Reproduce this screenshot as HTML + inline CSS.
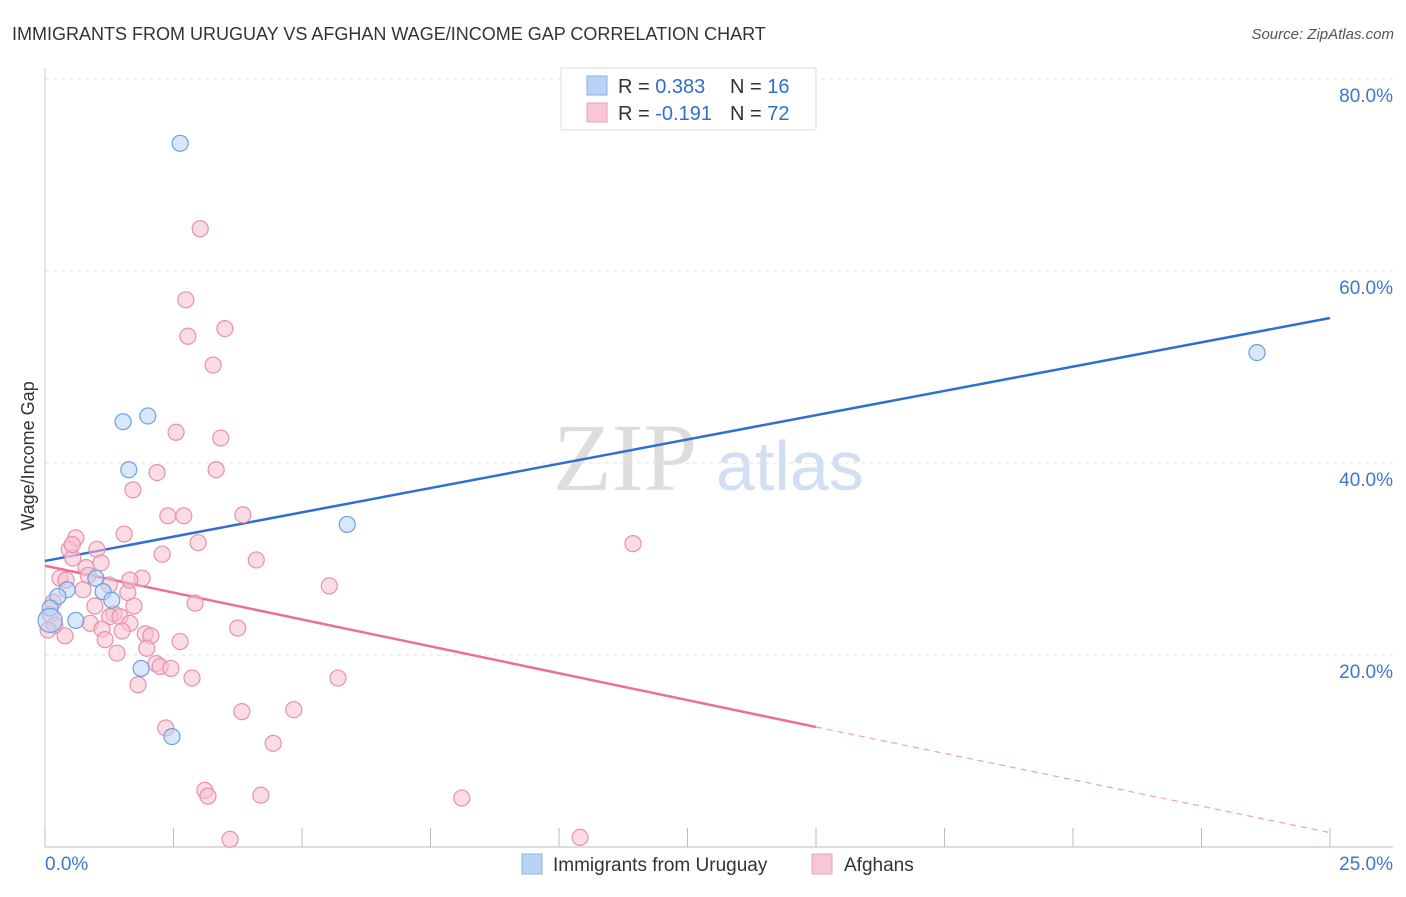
<!DOCTYPE html>
<html><head><meta charset="utf-8">
<style>
body{margin:0;background:#fff;font-family:"Liberation Sans",sans-serif;}
svg text{font-family:"Liberation Sans",sans-serif;}
</style></head>
<body>
<svg id="chart" width="1406" height="892" xmlns="http://www.w3.org/2000/svg">
<text x="12" y="40" font-size="18" fill="#333">IMMIGRANTS FROM URUGUAY VS AFGHAN WAGE/INCOME GAP CORRELATION CHART</text>
<text x="1394" y="39" font-size="15" fill="#555" font-style="italic" text-anchor="end">Source: ZipAtlas.com</text>
<text x="553" y="490" font-size="96" fill="#ddd" font-family="Liberation Serif" style="font-family:'Liberation Serif',serif">ZIP</text>
<text x="716" y="490" font-size="70" fill="#d0dff3">atlas</text>
<g id="grid"></g>
<g id="axes"></g>
<g id="lines"></g>
<g id="points"></g>
<text transform="translate(34,456) rotate(-90)" font-size="18" fill="#333" text-anchor="middle">Wage/Income Gap</text>
<g>
<rect x="561" y="68" width="255" height="62" fill="#fff" stroke="#ddd"/>
<rect x="587" y="76" width="20" height="19" fill="#b8d3f5" stroke="#88b0e6"/>
<rect x="587" y="103" width="20" height="19" fill="#f8c6d4" stroke="#eaa0b8"/>
<text x="618" y="93" font-size="20" fill="#333">R = <tspan fill="#2f6fd0">0.383</tspan></text>
<text x="730" y="93" font-size="20" fill="#333">N = <tspan fill="#2f6fd0">16</tspan></text>
<text x="618" y="120" font-size="20" fill="#333">R = <tspan fill="#2f6fd0">-0.191</tspan></text>
<text x="730" y="120" font-size="20" fill="#333">N = <tspan fill="#2f6fd0">72</tspan></text>
</g>
<g>
<rect x="522" y="854" width="20" height="20" fill="#b8d3f5" stroke="#88b0e6"/>
<text x="553" y="871" font-size="19" fill="#333">Immigrants from Uruguay</text>
<rect x="812" y="854" width="20" height="20" fill="#f8c6d4" stroke="#eaa0b8"/>
<text x="844" y="871" font-size="19" fill="#333">Afghans</text>
</g>
</svg>
<script>
const yTicks=[20,40,60,80];
const xTickVals=[0,2.5,5,7.5,10,12.5,15,17.5,20,22.5,25];
const blueX=[2.63,1.52,2.0,1.63,5.88,23.58,0.99,0.43,0.25,1.13,1.30,0.1,0.6,1.87,2.47,0.1];
const blueY=[73.3,44.3,44.9,39.3,33.6,51.5,28.0,26.8,26.1,26.6,25.7,24.9,23.6,18.6,11.5,23.6];
const pinkX=[3.02,2.74,3.50,2.78,3.27,2.55,3.42,2.18,3.33,1.71,2.39,2.70,3.85,1.54,0.60,2.98,0.47,1.01,2.28,11.44,4.11,0.54,1.09,0.80,0.29,0.41,1.89,1.25,5.53,0.74,1.61,0.16,0.97,1.73,2.92,1.34,1.26,1.46,0.88,1.65,1.11,3.75,1.50,1.95,2.06,0.39,2.63,1.98,1.40,2.16,2.24,2.45,2.86,5.70,1.81,3.83,4.84,2.35,4.44,3.11,3.17,4.20,8.11,3.60,10.41,0.1,0.19,0.06,0.84,0.53,1.17,1.65];
const pinkY=[64.4,57.0,54.0,53.2,50.2,43.2,42.6,39.0,39.3,37.2,34.5,34.5,34.6,32.6,32.2,31.7,31.0,31.0,30.5,31.6,29.9,30.1,29.6,29.1,28.0,27.8,28.0,27.3,27.2,26.8,26.5,25.5,25.1,25.1,25.4,24.3,24.0,24.0,23.3,23.3,22.7,22.8,22.5,22.2,22.0,22.0,21.4,20.7,20.2,19.1,18.8,18.6,17.6,17.6,16.9,14.1,14.3,12.4,10.8,5.9,5.3,5.4,5.1,0.8,1.0,24.2,23.1,22.6,28.3,31.5,21.6,27.8];
const blueTrend=[[0,29.8],[25,55.1]];
const pinkTrend=[[0,29.3],[15,12.5]];
const pinkTrendDash=[[15,12.5],[25,1.5]];
const NS="http://www.w3.org/2000/svg";
const sx=v=>45+v*(1285/25);
const sy=v=>847-v*9.6;
function mk(tag,attrs,parent){const e=document.createElementNS(NS,tag);for(const k in attrs)e.setAttribute(k,attrs[k]);document.getElementById(parent).appendChild(e);return e;}
yTicks.forEach(t=>{
 const l=mk('line',{x1:45,x2:1393,y1:sy(t),y2:sy(t),stroke:'#e2e2e2','stroke-dasharray':'4,4'},'grid');
 
 
 const tx=mk('text',{x:1393,y:sy(t)+23,'font-size':19,fill:'#3a78d0','text-anchor':'end'},'grid');
 tx.textContent=t.toFixed(1)+'%';
 
 
});
const ax=mk('line',{x1:45,x2:1393,y1:847,y2:847,stroke:'#bbb'},'axes');


const ay=mk('line',{x1:45,x2:45,y1:68,y2:847,stroke:'#ccc'},'axes');


xTickVals.forEach(t=>{
 const l=mk('line',{x1:sx(t),x2:sx(t),y1:828,y2:847,stroke:'#bbb'},'axes');
 
 
});
const x0=mk('text',{x:45,y:870,'font-size':19,fill:'#3a78d0'},'axes');x0.textContent='0.0%';


const x1=mk('text',{x:1393,y:870,'font-size':19,fill:'#3a78d0','text-anchor':'end'},'axes');x1.textContent='25.0%';


function dot(x,y,fill,stroke,name,r){const c=mk('circle',{cx:sx(x),cy:sy(y),r:r||8,fill:fill,'fill-opacity':0.55,stroke:stroke,'stroke-width':1.2},'points');
 
 }
pinkX.forEach((x,i)=>dot(x,pinkY[i],'#f8c0d0','#e890aa','afghan-point'));
blueX.forEach((x,i)=>dot(x,blueY[i],'#b8d3f5','#6d9fe0','uruguay-point',i===15?12:8));
function tl(p,stroke,w,dash,name){const l=mk('line',{x1:sx(p[0][0]),y1:sy(p[0][1]),x2:sx(p[1][0]),y2:sy(p[1][1]),stroke:stroke,'stroke-width':w},'lines');
 if(dash)l.setAttribute('stroke-dasharray',dash);
 
 }
tl(blueTrend,'#2f6fd0',2.5,null,'uruguay-trend-line');
tl(pinkTrend,'#e8709a',2.5,null,'afghan-trend-line');
tl(pinkTrendDash,'#eba0b8',1.2,'6,5','afghan-trend-extension');
</script>
</body></html>
